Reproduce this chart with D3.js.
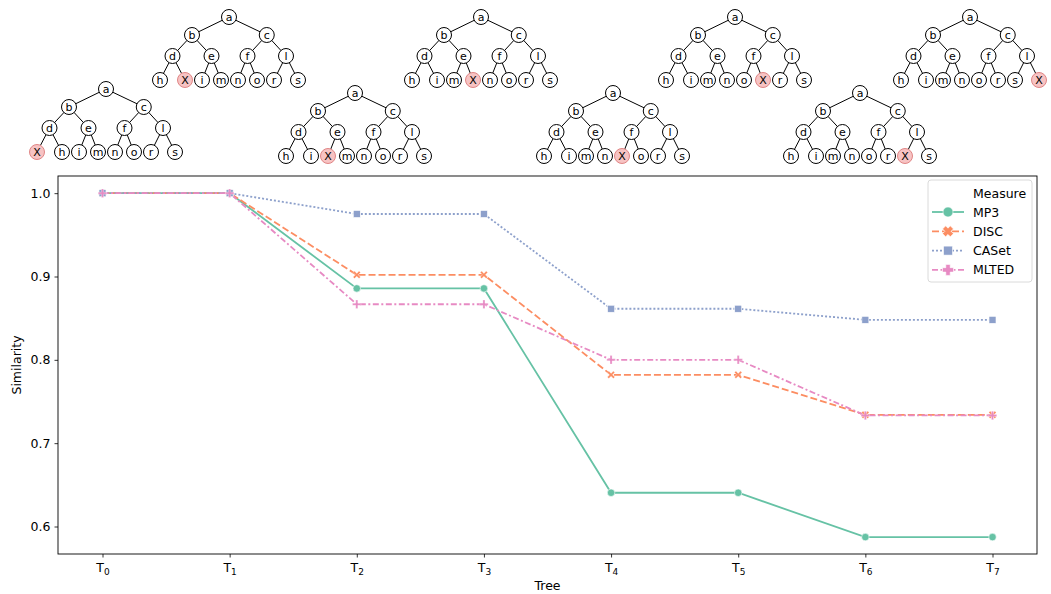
<!DOCTYPE html>
<html>
<head>
<meta charset="utf-8">
<script src="https://cdn.jsdelivr.net/npm/d3@7"></script>
<style>
  body { margin: 0; background: #fff; }
  text { font-family: "DejaVu Sans", sans-serif; }
</style>
</head>
<body>
<svg id="chart" width="1051" height="594"></svg>
<script>
// data
const trees = ["0", "1", "2", "3", "4", "5", "6", "7"];
const mp3 = [1.0, 1.0, 0.8857, 0.8857, 0.6405, 0.6405, 0.5873, 0.5873];
const disc = [1.0, 1.0, 0.902, 0.902, 0.782, 0.782, 0.734, 0.734];
const caset = [1.0, 1.0, 0.975, 0.975, 0.8613, 0.8613, 0.848, 0.848];
const mlted = [1.0, 1.0, 0.8667, 0.8667, 0.8, 0.8, 0.7333, 0.7333];
const yTicks = [0.6, 0.7, 0.8, 0.9, 1.0];

// labels of the small trees drawn above the plot
const rootLabel = "a";
const midLabels = ["b", "c"];
const innerLabels = ["d", "e", "f", "l"];
const leafLabels = [
  ["X", "h", "i", "m", "n", "o", "r", "s"],
  ["h", "X", "i", "m", "n", "o", "r", "s"],
  ["h", "i", "X", "m", "n", "o", "r", "s"],
  ["h", "i", "m", "X", "n", "o", "r", "s"],
  ["h", "i", "m", "n", "X", "o", "r", "s"],
  ["h", "i", "m", "n", "o", "X", "r", "s"],
  ["h", "i", "m", "n", "o", "r", "X", "s"],
  ["h", "i", "m", "n", "o", "r", "s", "X"]
];

const series = [
  { name: "MP3", values: mp3, color: "#66c2a5", dash: null, marker: "circle" },
  { name: "DISC", values: disc, color: "#fc8d62", dash: "7,3", marker: "x" },
  { name: "CASet", values: caset, color: "#8da0cb", dash: "2,2", marker: "square" },
  { name: "MLTED", values: mlted, color: "#e78ac3", dash: "6,2.5,2,2.5", marker: "plus" }
];

// layout
var margin = { top: 176, right: 14, bottom: 40, left: 58 },
  W = 1051, H = 594;

var svg = d3.select("#chart");

var x = d3.scaleLinear().domain([-0.35, trees.length - 1 + 0.35]).range([margin.left, W - margin.right]);
var y = d3.scaleLinear().domain([0.567, 1.0206]).range([H - margin.bottom, margin.top]);

// ---------- trees ----------
var treeRoots = [[106, 89], [229, 17], [355, 93], [481, 17], [613, 93], [735, 17], [860, 93], [970, 17]];
var leafOff = [-69, -44, -27, -8, 9, 28, 45, 69];
var levelY = [0, 18, 39, 63];

leafLabels.forEach(function (leaves, t) {
  var rx = treeRoots[t][0], ry = treeRoots[t][1];
  var nodes = [];
  var edges = [];
  var lx = leafOff.map(function (o) { return rx + o; });
  var ix = [0, 1, 2, 3].map(function (i) { return (lx[2 * i] + lx[2 * i + 1]) / 2; });
  var mx = [0, 1].map(function (i) { return (ix[2 * i] + ix[2 * i + 1]) / 2; });
  nodes.push({ x: rx, y: ry, label: rootLabel });
  mx.forEach(function (v, i) {
    nodes.push({ x: v, y: ry + levelY[1], label: midLabels[i] });
    edges.push([rx, ry, v, ry + levelY[1]]);
  });
  ix.forEach(function (v, i) {
    nodes.push({ x: v, y: ry + levelY[2], label: innerLabels[i] });
    edges.push([mx[Math.floor(i / 2)], ry + levelY[1], v, ry + levelY[2]]);
  });
  lx.forEach(function (v, i) {
    nodes.push({ x: v, y: ry + levelY[3], label: leaves[i] });
    edges.push([ix[Math.floor(i / 2)], ry + levelY[2], v, ry + levelY[3]]);
  });

  var g = svg.append("g").attr("class", "tree");
  g.selectAll("line").data(edges).enter().append("line")
    .attr("x1", function (d) { return d[0]; })
    .attr("y1", function (d) { return d[1]; })
    .attr("x2", function (d) { return d[2]; })
    .attr("y2", function (d) { return d[3]; })
    .attr("stroke", "#000").attr("stroke-width", 1);
  var n = g.selectAll("g.node").data(nodes).enter().append("g")
    .attr("transform", function (d) { return "translate(" + d.x + "," + d.y + ")"; });
  n.append("circle").attr("r", 7.5)
    .attr("fill", function (d) { return d.label === "X" ? "#f7c3c3" : "#fff"; })
    .attr("stroke", function (d) { return d.label === "X" ? "#e08585" : "#000"; })
    .attr("stroke-width", 1);
  n.append("text").attr("text-anchor", "middle").attr("dy", "0.36em")
    .attr("font-size", 11).attr("fill", "#000")
    .text(function (d) { return d.label; });
});

// ---------- axes frame ----------
var plotG = svg.append("g");

// y axis
var yAxis = d3.axisLeft(y).tickValues(yTicks).tickFormat(d3.format(".1f")).tickSize(3.5).tickPadding(4);
var ya = plotG.append("g").attr("transform", "translate(" + margin.left + ",0)").call(yAxis);
ya.select(".domain").remove();
ya.selectAll("text").attr("font-size", 12.5).attr("font-family", "DejaVu Sans").attr("fill", "#000");
ya.selectAll("line").attr("stroke", "#000").attr("stroke-width", 0.8);

// x axis
var xAxis = d3.axisBottom(x).tickValues(d3.range(trees.length)).tickFormat("").tickSize(3.5);
var xa = plotG.append("g").attr("transform", "translate(0," + (H - margin.bottom) + ")").call(xAxis);
xa.select(".domain").remove();
xa.selectAll("line").attr("stroke", "#000").attr("stroke-width", 0.8);
xa.selectAll(".tick").append("text")
  .attr("fill", "#000").attr("y", 18).attr("text-anchor", "middle")
  .attr("font-size", 12.5)
  .each(function (d) {
    var t = d3.select(this);
    t.append("tspan").text("T");
    t.append("tspan").attr("font-size", 9).attr("dy", 3).text(trees[d]);
  });

// frame
plotG.append("rect")
  .attr("x", margin.left).attr("y", margin.top)
  .attr("width", W - margin.right - margin.left)
  .attr("height", H - margin.bottom - margin.top)
  .attr("fill", "none").attr("stroke", "#000").attr("stroke-width", 0.9);

// axis labels
svg.append("text").attr("x", (margin.left + W - margin.right) / 2).attr("y", 590)
  .attr("text-anchor", "middle").attr("font-size", 12.5).text("Tree");
svg.append("text").attr("transform", "translate(21," + ((margin.top + H - margin.bottom) / 2) + ") rotate(-90)")
  .attr("text-anchor", "middle").attr("font-size", 12.5).text("Similarity");

// ---------- lines ----------
var line = d3.line()
  .x(function (d, i) { return x(i); })
  .y(function (d) { return y(d); });

function drawMarker(sel, type, color, s, thin) {
  if (type === "circle") {
    sel.append("circle").attr("r", s * 0.5).attr("fill", color).attr("stroke", "#fff").attr("stroke-width", 0.6);
  } else if (type === "square") {
    sel.append("rect").attr("x", -s / 2).attr("y", -s / 2).attr("width", s).attr("height", s)
      .attr("fill", color).attr("stroke", "#fff").attr("stroke-width", 0.6);
  } else {
    var a = s / 2, w = thin ? s * 0.12 : s * 0.2;
    var p = "M" + (-w) + "," + (-a) + "H" + w + "V" + (-w) + "H" + a + "V" + w + "H" + w + "V" + a +
      "H" + (-w) + "V" + w + "H" + (-a) + "V" + (-w) + "H" + (-w) + "Z";
    sel.append("path").attr("d", p)
      .attr("transform", type === "x" ? "rotate(45)" : null)
      .attr("fill", color).attr("stroke", "#fff").attr("stroke-width", thin ? 0.3 : 0.6);
  }
}

series.forEach(function (s) {
  plotG.append("path")
    .datum(s.values)
    .attr("fill", "none")
    .attr("stroke", s.color)
    .attr("stroke-width", 1.8)
    .attr("stroke-dasharray", s.dash)
    .attr("d", line);
});

series.forEach(function (s) {
  plotG.selectAll(null).data(s.values).enter().append("g")
    .attr("transform", function (d, i) { return "translate(" + x(i) + "," + y(d) + ")"; })
    .each(function () {
      var sz = s.marker === "circle" ? 7.5 : (s.marker === "square" ? 7 : 8.5);
      drawMarker(d3.select(this), s.marker, s.color, sz, true);
    });
});

// ---------- legend ----------
var lg = svg.append("g").attr("transform", "translate(928,180)");
lg.append("rect").attr("width", 104).attr("height", 102).attr("rx", 3)
  .attr("fill", "#fff").attr("fill-opacity", 0.8).attr("stroke", "#d6d6d6").attr("stroke-width", 0.9);
lg.append("text").attr("x", 45).attr("y", 13).attr("dy", "0.36em").attr("font-size", 12.5).text("Measure");
series.forEach(function (s, i) {
  var row = lg.append("g").attr("transform", "translate(0," + (32 + i * 19.3) + ")");
  row.append("line").attr("x1", 4).attr("x2", 36).attr("stroke", s.color)
    .attr("stroke-width", 1.8).attr("stroke-dasharray", s.dash);
  var m = row.append("g").attr("transform", "translate(20,0)");
  drawMarker(m, s.marker, s.color, s.marker === "circle" ? 10 : (s.marker === "square" ? 9 : 11), false);
  row.append("text").attr("x", 45).attr("dy", "0.36em").attr("font-size", 12.5).text(s.name);
});
</script>
</body>
</html>
